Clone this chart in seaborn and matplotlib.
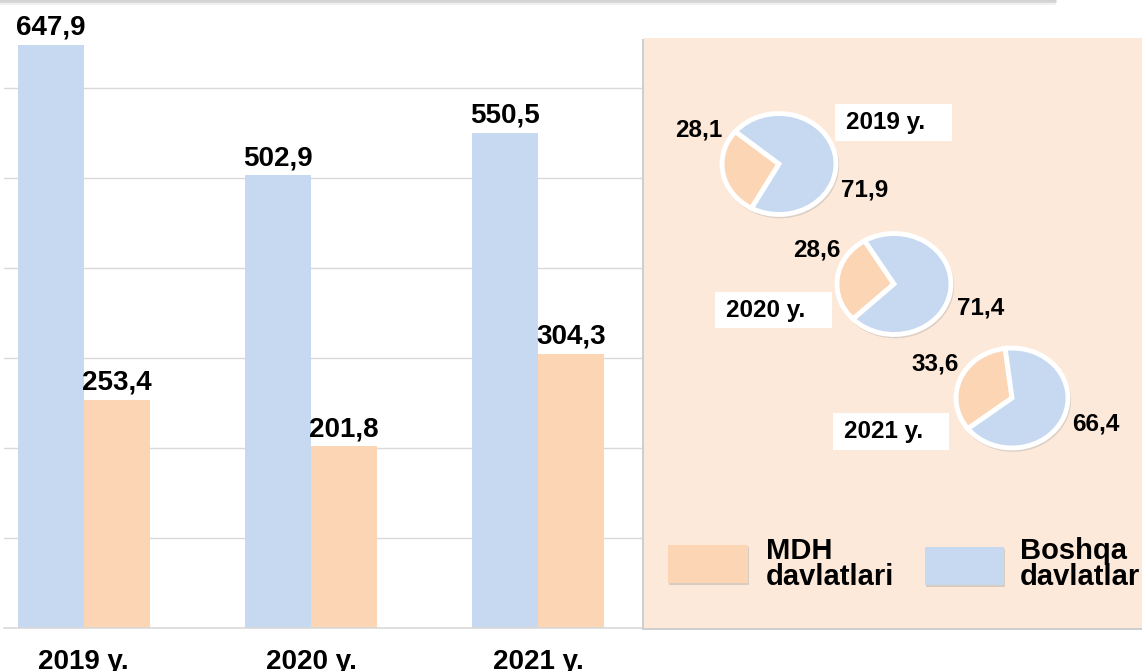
import numpy as np
import pandas as pd
import matplotlib
matplotlib.use("Agg")
import matplotlib.pyplot as plt
from matplotlib.patches import Rectangle, Ellipse
from matplotlib.lines import Line2D
import seaborn as sns

# ---- data -------------------------------------------------------------
years = ["2019 y.", "2020 y.", "2021 y."]
groups = ["Boshqa davlatlar", "MDH davlatlari"]
other_values = [647.9, 502.9, 550.5]   # Boshqa davlatlar
cis_values = [253.4, 201.8, 304.3]     # MDH davlatlari
cis_share = [28.1, 28.6, 33.6]         # MDH share, %
other_share = [71.9, 71.4, 66.4]       # Boshqa share, %
legend_labels = ["MDH\ndavlatlari", "Boshqa\ndavlatlar"]

BLUE = "#C6D9F1"
PEACH = "#FCD5B5"
PANEL = "#FDE9D9"
GRID = "#D9D9D9"

sns.set_style("white")
plt.rcParams["font.family"] = ["Liberation Sans", "DejaVu Sans"]
plt.rcParams["text.color"] = "black"
plt.rcParams["xtick.color"] = "black"

W, H = 1142, 671
fig = plt.figure(figsize=(W / 100, H / 100), dpi=100)
fig.patch.set_facecolor("white")


def fx(x):
    return x / W


def fy(y):
    return 1 - y / H


def fmt(v):
    return f"{v:.1f}".replace(".", ",")


# ---- grouped bar chart ------------------------------------------------
df = pd.DataFrame({
    "year": years * 2,
    "group": [groups[0]] * 3 + [groups[1]] * 3,
    "value": other_values + cis_values,
})

ax = fig.add_axes([fx(4), fy(628), 648 / W, 628 / H])
sns.barplot(data=df, x="year", y="value", hue="group", hue_order=groups,
            palette=[BLUE, PEACH], width=0.58, saturation=1, linewidth=0,
            legend=False, ax=ax)
ax.set_xlim(-0.35, 2.5)
ax.set_ylim(0, 628 / 0.9)
ax.set_yticks(np.arange(100, 700, 100))
ax.set_yticklabels([])
ax.tick_params(axis="y", length=0)
ax.yaxis.grid(True, color=GRID, lw=1)
ax.set_axisbelow(True)
ax.set_xlabel("")
ax.set_ylabel("")
for s in ["left", "right", "top"]:
    ax.spines[s].set_visible(False)
ax.spines["bottom"].set_color(GRID)
ax.spines["bottom"].set_linewidth(1.2)

ax.set_xticks(range(len(years)))
ax.set_xticklabels(years, fontsize=20, fontweight="bold", color="black")
ax.tick_params(axis="x", which="major", length=0, pad=15)
ax.set_xticks([0.5, 1.5, 2.5], minor=True)
ax.tick_params(axis="x", which="minor", length=6.5, color=GRID, width=1.2)

for cont in ax.containers:
    ax.bar_label(cont, labels=[fmt(v) for v in cont.datavalues],
                 fontsize=20, fontweight="bold", padding=3, color="black")

# soft shadow band along the top edge
for y, c, lw in [(0.8, "#C2C2C2", 1.8), (2.3, "#D8D8D8", 1.4), (3.6, "#EDEDED", 1.2)]:
    fig.add_artist(Line2D([0, fx(1055)], [fy(y), fy(y)], color=c, lw=lw, zorder=5))

# ---- side panel with pies ---------------------------------------------
fig.add_artist(Rectangle((fx(642), fy(630)), fx(W + 10) - fx(642), fy(39) - fy(630),
                         transform=fig.transFigure, facecolor="#CFCFCF",
                         edgecolor="none", zorder=2))
fig.add_artist(Rectangle((fx(644), fy(628)), fx(W + 10) - fx(644), fy(38) - fy(628),
                         transform=fig.transFigure, facecolor=PANEL,
                         edgecolor="none", zorder=2.1))

pie_geom = [  # centre x, centre y, radius x, radius y, start angle
    (779, 164, 57, 50.5, 140),
    (894, 284, 57, 50.5, 121),
    (1012, 398, 56, 50, 97),
]
for (cx, cy, rx, ry, start), a, b in zip(pie_geom, cis_share, other_share):
    pax = fig.add_axes([fx(cx - rx - 4), fy(cy + ry + 4), (2 * rx + 8) / W, (2 * ry + 8) / H])
    pax.set_zorder(3)
    pax.patch.set_visible(False)
    sx = (rx + 4) / rx
    sy = (ry + 4) / ry
    pax.add_patch(Ellipse((0.02, -0.04), 2.07, 2.07, facecolor="#A0A0A0",
                          alpha=0.35, edgecolor="none", zorder=0))
    pax.pie([a, b], colors=[PEACH, BLUE], startangle=start, counterclock=True,
            radius=1, wedgeprops=dict(edgecolor="white", linewidth=3.5))
    pax.set_aspect("auto")
    pax.set_xlim(-sx, sx)
    pax.set_ylim(-sy, sy)
    pax.axis("off")

label_kw = dict(fontsize=17.5, fontweight="bold", ha="center", va="center", zorder=6)
share_pos = [((699, 130), (865, 190)), ((817, 250), (981, 308)), ((935, 364), (1096, 424))]
for (pa, pb), a, b in zip(share_pos, cis_share, other_share):
    fig.text(fx(pa[0]), fy(pa[1]), fmt(a), **label_kw)
    fig.text(fx(pb[0]), fy(pb[1]), fmt(b), **label_kw)

year_boxes = [(835, 104, 952, 141), (715, 292, 832, 328), (833, 413, 949, 450)]
for (x0, y0, x1, y1), yr in zip(year_boxes, years):
    fig.add_artist(Rectangle((fx(x0), fy(y1)), fx(x1) - fx(x0), fy(y0) - fy(y1),
                             transform=fig.transFigure, facecolor="white",
                             edgecolor="none", zorder=5))
    fig.text(fx(x0 + 11), fy((y0 + y1) / 2), yr, fontsize=17.5, fontweight="bold",
             ha="left", va="center", zorder=6)

# ---- legend -----------------------------------------------------------
swatches = [((668, 545, 748, 583), PEACH), ((925, 547, 1004, 585), BLUE)]
text_x = [766, 1020]
for ((x0, y0, x1, y1), col), tx, lab in zip(swatches, text_x, legend_labels):
    fig.add_artist(Rectangle((fx(x0 + 1), fy(y1 + 2)), fx(x1) - fx(x0), fy(y0) - fy(y1),
                             transform=fig.transFigure, facecolor="#D8CCC2",
                             edgecolor="none", zorder=4))
    fig.add_artist(Rectangle((fx(x0), fy(y1)), fx(x1) - fx(x0), fy(y0) - fy(y1),
                             transform=fig.transFigure, facecolor=col,
                             edgecolor="none", zorder=4.1))
    fig.text(fx(tx), fy(564), lab, fontsize=21, fontweight="bold", ha="left",
             va="center", linespacing=0.92, zorder=6)

fig.savefig("out.png", dpi=100)
